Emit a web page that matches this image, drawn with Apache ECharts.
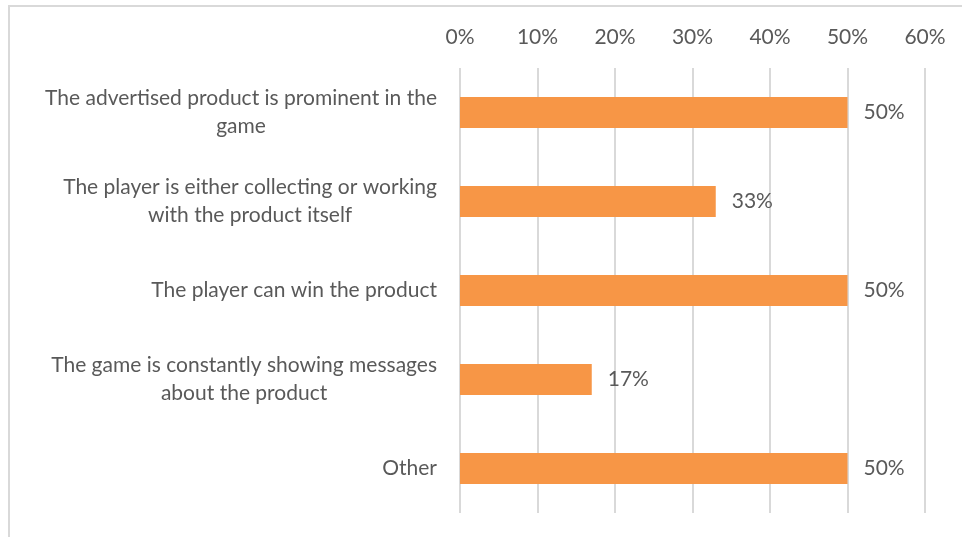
<!DOCTYPE html>
<html>
<head>
<meta charset="utf-8">
<script src="https://cdn.jsdelivr.net/npm/echarts@6/dist/echarts.min.js"></script>
<style>
  html, body { margin: 0; padding: 0; background: #ffffff; }
  #chart { width: 962px; height: 537px; }
</style>
</head>
<body>
<div id="chart"></div>
<script>
// Survey categories (line breaks mark where the labels wrap)
const categories = [
  'The advertised product is prominent in the\ngame',
  'The player is either collecting or working\nwith the product itself',
  'The player can win the product',
  'The game is constantly showing messages\nabout the product',
  'Other'
];
// Share of respondents, in percent
const shares = [50, 33, 50, 17, 50];
// Value axis ticks
const axisMin = 0;
const axisMax = 60;
const axisStep = 10;

const FONT = 'Lato';
const SIZE = 21;
const TEXT = '#595959';
const GRID_LINE = '#d9d9d9';

const chart = echarts.init(document.getElementById('chart'));

chart.setOption({
  backgroundColor: '#ffffff',
  animation: false,
  textStyle: { fontFamily: FONT, color: TEXT },
  graphic: [{
    type: 'rect',
    shape: { x: 9, y: 6, width: 1000, height: 600 },
    style: { fill: 'none', stroke: '#d9d9d9', lineWidth: 2 },
    silent: true,
    z: -1
  }],
  grid: { left: 460, right: 37, top: 68, bottom: 24, containLabel: false },
  xAxis: {
    type: 'value',
    position: 'top',
    min: axisMin,
    max: axisMax,
    interval: axisStep,
    axisLine: { show: false },
    axisTick: { show: false },
    axisLabel: {
      formatter: '{value}%',
      color: TEXT,
      fontFamily: FONT,
      fontSize: SIZE,
      margin: 20
    },
    splitLine: { show: true, lineStyle: { color: GRID_LINE, width: 2 } }
  },
  yAxis: {
    type: 'category',
    inverse: true,
    data: categories,
    axisLine: { show: false },
    axisTick: { show: false },
    axisLabel: {
      margin: 23,
      color: TEXT,
      fontFamily: FONT,
      fontSize: SIZE,
      formatter: function (value) {
        return value.split('\n').map(function (l) { return '{c|' + l + '}'; }).join('\n');
      },
      rich: {
        c: { align: 'center', color: TEXT, fontFamily: FONT, fontSize: SIZE, lineHeight: 28 }
      }
    }
  },
  series: [{
    type: 'bar',
    data: shares,
    barWidth: 31,
    itemStyle: { color: '#F79646' },
    label: {
      show: true,
      position: 'right',
      distance: 16,
      color: TEXT,
      fontFamily: FONT,
      fontSize: SIZE,
      formatter: function (p) { return p.value + '%'; }
    }
  }]
});
</script>
</body>
</html>
